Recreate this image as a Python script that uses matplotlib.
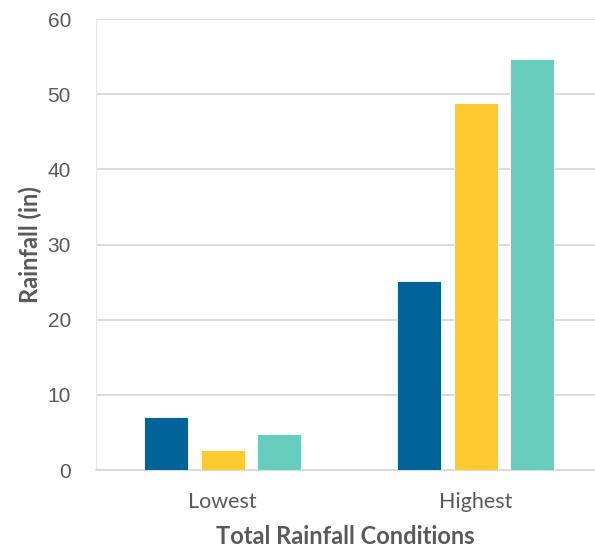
import matplotlib.pyplot as plt
import numpy as np

# rainfall per condition, three series
categories = ['Lowest', 'Highest']
series_a = [7.0, 25.2]
series_b = [2.7, 48.8]
series_c = [4.8, 54.7]
colors = ['#006498', '#FFC932', '#67CDBC']

plt.rcParams['font.family'] = ['Lato', 'DejaVu Sans']

fig = plt.figure(figsize=(5.95, 5.5), dpi=100)
ax = fig.add_axes([96 / 595, 80 / 550, 499 / 595, 451 / 550])

x = np.arange(len(categories))
width = 0.174
offset = 0.222
for i, (vals, c) in enumerate(zip([series_a, series_b, series_c], colors)):
    ax.bar(x + (i - 1) * offset, vals, width, color=c, edgecolor='#ffffff',
           linewidth=0.6, zorder=3)

ax.set_xlim(-0.5, 1.472)
ax.set_ylim(0, 60)
ax.set_yticks(range(0, 61, 10))
ax.set_xticks(x)
ax.set_xticklabels(categories)
ax.grid(axis='y', color='#d9d9d9', linewidth=1.3, zorder=0)
for s in ['top', 'right']:
    ax.spines[s].set_visible(False)
ax.spines['left'].set_color('#e6e6e6')
ax.spines['bottom'].set_color('#d9d9d9')
ax.spines['bottom'].set_linewidth(1.3)
ax.tick_params(length=0, labelcolor='#595959')
ax.tick_params(axis='y', pad=18, labelsize=15)
ax.tick_params(axis='x', pad=16, labelsize=15.5)
for t in ax.get_yticklabels():
    t.set_family('Liberation Sans')

ax.set_ylabel('Rainfall (in)', fontsize=17, fontweight='bold', color='#595959',
              labelpad=4)
ax.set_xlabel('Total Rainfall Conditions', fontsize=17, fontweight='bold',
              color='#595959', labelpad=9)

fig.savefig('out.png', dpi=100)
